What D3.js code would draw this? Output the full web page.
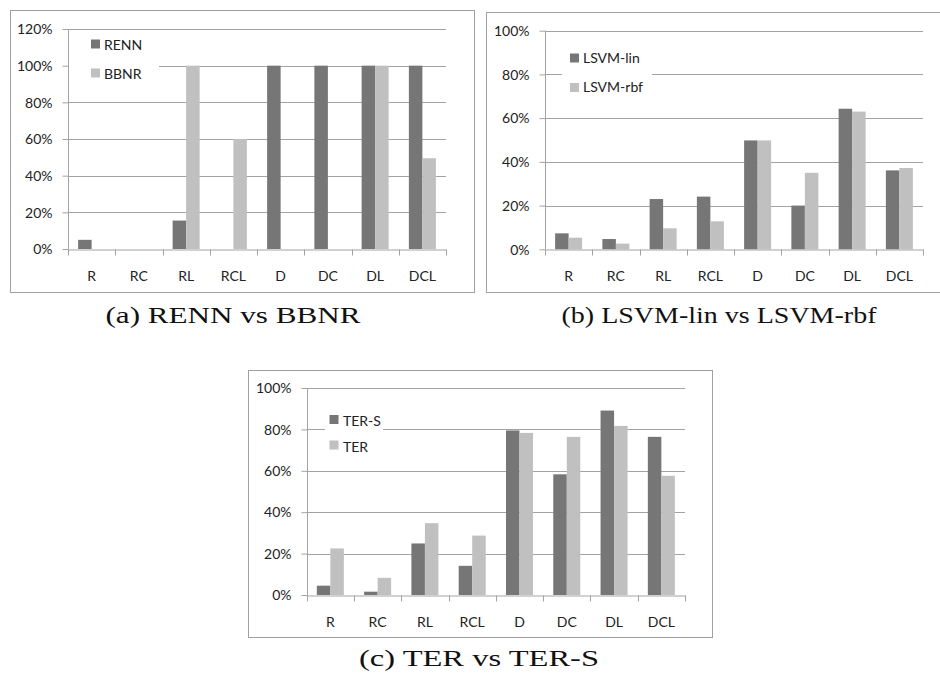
<!DOCTYPE html>
<html>
<head>
<meta charset="utf-8">
<script src="https://cdn.jsdelivr.net/npm/d3@7"></script>
<style>
  html, body { margin: 0; padding: 0; background: #ffffff; }
  svg { display: block; }
</style>
</head>
<body>
<script>
// ---------------- DATA ----------------
const categories = ["R", "RC", "RL", "RCL", "D", "DC", "DL", "DCL"];

const rennValues   = [5, 0, 15.5, 0, 100, 100, 100, 100];
const bbnrValues   = [0, 0, 100, 60, 0, 0, 100, 49.5];

const lsvmLinValues = [7.3, 4.7, 23, 24.1, 49.8, 20, 64.3, 36.1];
const lsvmRbfValues = [5.3, 2.6, 9.6, 12.8, 49.8, 35, 63, 37.2];

const terSValues = [4.5, 1.6, 24.9, 14.1, 79.5, 58.3, 89.1, 76.4];
const terValues  = [22.5, 8.3, 34.7, 28.7, 78.3, 76.4, 81.7, 57.6];

const ticksA = [0, 20, 40, 60, 80, 100, 120];
const ticksB = [0, 20, 40, 60, 80, 100];
const ticksC = [0, 20, 40, 60, 80, 100];

const seriesNamesA = ["RENN", "BBNR"];
const seriesNamesB = ["LSVM-lin", "LSVM-rbf"];
const seriesNamesC = ["TER-S", "TER"];

const captionA = "(a) RENN vs BBNR";
const captionB = "(b) LSVM-lin vs LSVM-rbf";
const captionC = "(c) TER vs TER-S";

// ---------------- STYLE / LAYOUT ----------------
const W = 940, H = 683;
const darkColor = "#767676";
const lightColor = "#c0c0c0";
const gridColor = "#a3a3a3";
const borderColor = "#a0a0a0";
const textColor = "#222222";
const chartFont = "Lato, 'Open Sans', sans-serif";
const captionFont = "'Liberation Serif', 'DejaVu Serif', serif";

const svg = d3.select("body").append("svg")
  .attr("width", W).attr("height", H);

function drawPanel(cfg) {
  const g = svg.append("g");
  // panel border
  g.append("rect")
    .attr("x", cfg.box.x + 0.5).attr("y", cfg.box.y + 0.5)
    .attr("width", cfg.box.w).attr("height", cfg.box.h)
    .attr("fill", "#fff").attr("stroke", borderColor).attr("stroke-width", 1);

  const x0 = d3.scaleBand().domain(categories)
    .range([cfg.plot.left, cfg.plot.right]).padding(0);
  const bw = x0.bandwidth();
  const barW = bw / 3.5;
  const x1 = d3.scaleBand().domain([0, 1])
    .range([barW * 0.75, barW * 2.75]).padding(0);
  const y = d3.scaleLinear().domain([0, cfg.yMax])
    .range([cfg.plot.bottom, cfg.plot.top]);

  // gridlines
  g.append("g").selectAll("line")
    .data(cfg.ticks.filter(t => t > 0))
    .join("line")
    .attr("x1", cfg.plot.left).attr("x2", cfg.plot.right)
    .attr("y1", d => Math.round(y(d)) + 0.5).attr("y2", d => Math.round(y(d)) + 0.5)
    .attr("stroke", gridColor).attr("stroke-width", 1);

  // legend background (white box hiding gridlines)
  g.append("rect")
    .attr("x", cfg.legend.box.x).attr("y", cfg.legend.box.y)
    .attr("width", cfg.legend.box.w).attr("height", cfg.legend.box.h)
    .attr("fill", "#fff");

  // bars
  const seriesList = [cfg.series[0], cfg.series[1]];
  const colors = [darkColor, lightColor];
  seriesList.forEach((vals, si) => {
    g.append("g").selectAll("rect")
      .data(vals.map((v, i) => ({ c: categories[i], v })))
      .join("rect")
      .attr("x", d => x0(d.c) + x1(si))
      .attr("width", x1.bandwidth())
      .attr("y", d => y(d.v))
      .attr("height", d => y(0) - y(d.v))
      .attr("fill", colors[si]);
  });

  // y axis
  const yAxis = d3.axisLeft(y)
    .tickValues(cfg.ticks)
    .tickFormat(d => d + "%")
    .tickSize(6)
    .tickPadding(10);
  const ya = g.append("g")
    .attr("transform", `translate(${Math.round(cfg.plot.left) + 0.5},0)`)
    .call(yAxis);
  ya.select(".domain")
    .attr("d", `M0,${y(0)}V${y(cfg.yMax)}`)
    .attr("stroke", gridColor);
  ya.selectAll(".tick line").attr("stroke", gridColor);
  ya.selectAll(".tick text")
    .attr("font-family", chartFont).attr("font-size", 14)
    .attr("fill", textColor).attr("dy", "0.34em");

  // x axis (labels)
  const xAxis = d3.axisBottom(x0).tickSize(0).tickPadding(22);
  const xa = g.append("g")
    .attr("transform", `translate(0,${Math.round(cfg.plot.bottom) + 0.5})`)
    .call(xAxis);
  xa.select(".domain").attr("stroke", gridColor);
  xa.selectAll(".tick text")
    .attr("font-family", chartFont).attr("font-size", 14)
    .attr("fill", textColor);
  // category boundary ticks
  const bounds = categories.map(c => x0(c)).concat([x0.range()[1]]);
  xa.append("g").selectAll("line")
    .data(bounds).join("line")
    .attr("x1", d => Math.round(d) + 0.5).attr("x2", d => Math.round(d) + 0.5)
    .attr("y1", 0).attr("y2", 6)
    .attr("stroke", gridColor);

  // legend
  const lg = g.append("g");
  cfg.legend.items.forEach((it, i) => {
    lg.append("rect")
      .attr("x", cfg.legend.sqX).attr("y", it.sqY)
      .attr("width", 9).attr("height", 9)
      .attr("fill", colors[i]);
    lg.append("text")
      .attr("x", cfg.legend.textX).attr("y", it.base)
      .attr("font-family", chartFont).attr("font-size", 14)
      .attr("fill", textColor)
      .text(cfg.names[i]);
  });

  // caption
  svg.append("text")
    .attr("x", cfg.caption.cx).attr("y", cfg.caption.base)
    .attr("text-anchor", "middle")
    .attr("font-family", captionFont).attr("font-size", 24)
    .attr("fill", "#111")
    .attr("textLength", cfg.caption.w)
    .attr("lengthAdjust", "spacingAndGlyphs")
    .text(cfg.caption.text);
}

drawPanel({
  box: { x: 10, y: 10, w: 464, h: 282 },
  plot: { left: 68, right: 446, top: 29, bottom: 249 },
  yMax: 120, ticks: ticksA,
  series: [rennValues, bbnrValues], names: seriesNamesA,
  legend: {
    box: { x: 69, y: 31, w: 90, h: 56 },
    sqX: 91, textX: 104,
    items: [{ sqY: 39.5, base: 49.5 }, { sqY: 68.5, base: 78.5 }]
  },
  caption: { text: captionA, cx: 233, base: 323, w: 255 }
});

drawPanel({
  box: { x: 486, y: 12, w: 460, h: 280 },
  plot: { left: 545, right: 923, top: 30.7, bottom: 249.3 },
  yMax: 100, ticks: ticksB,
  series: [lsvmLinValues, lsvmRbfValues], names: seriesNamesB,
  legend: {
    box: { x: 562, y: 40, w: 90, h: 64 },
    sqX: 570, textX: 583,
    items: [{ sqY: 53.5, base: 62.5 }, { sqY: 83, base: 92.3 }]
  },
  caption: { text: captionB, cx: 719, base: 323, w: 315 }
});

drawPanel({
  box: { x: 248, y: 370, w: 464, h: 267 },
  plot: { left: 306.7, right: 685, top: 388, bottom: 595 },
  yMax: 100, ticks: ticksC,
  series: [terSValues, terValues], names: seriesNamesC,
  legend: {
    box: { x: 325, y: 400, w: 58, h: 58 },
    sqX: 329.5, textX: 343,
    items: [{ sqY: 415, base: 425.5 }, { sqY: 440.5, base: 451.5 }]
  },
  caption: { text: captionC, cx: 479, base: 666, w: 240 }
});
</script>
</body>
</html>
